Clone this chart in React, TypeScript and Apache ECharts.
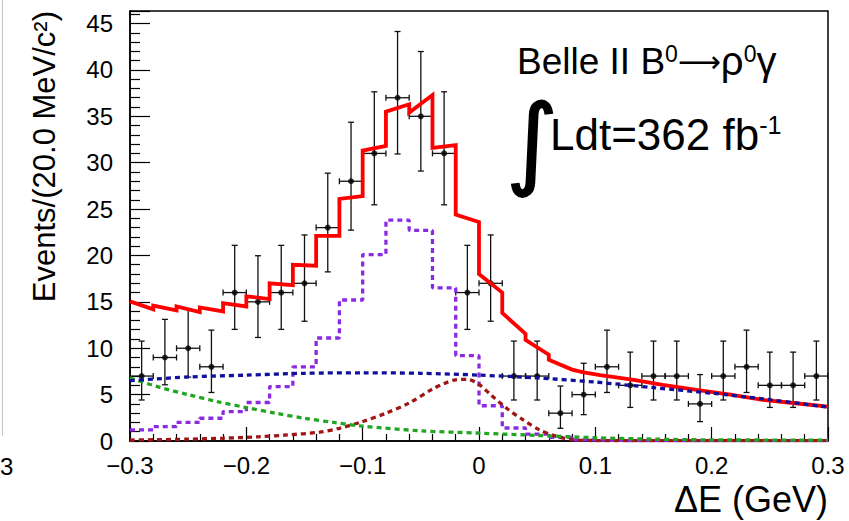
import React, { useEffect, useRef } from "react";
import * as echarts from "echarts";

// ---- data ----
const binCenters = [-0.29, -0.27, -0.25, -0.23, -0.21, -0.19, -0.17, -0.15, -0.13, -0.11, -0.09, -0.07, -0.05, -0.03, -0.01, 0.01, 0.03, 0.05, 0.07, 0.09, 0.11, 0.13, 0.15, 0.17, 0.19, 0.21, 0.23, 0.25, 0.27, 0.29];
const binHalfWidth = 0.01;
const counts = [7, 9, 10, 8, 16, 15, 16, 17, 23, 28, 31, 37, 35, 31, 16, 17, 7, 7, 3, 5, 8, 6, 7, 7, 4, 7, 8, 6, 6, 7];
const errLow = [4.42, 6.06, 6.89, 5.23, 12.03, 11.16, 12.03, 12.91, 18.23, 22.73, 25.46, 30.94, 29.1, 25.46, 12.03, 12.91, 4.42, 4.42, 1.37, 2.84, 5.23, 3.62, 4.42, 4.42, 2.09, 4.42, 5.23, 3.62, 3.62, 4.42];
const errHigh = [10.77, 13.11, 14.27, 11.95, 21.09, 19.97, 21.09, 22.21, 28.87, 34.36, 37.64, 44.14, 41.98, 37.64, 21.09, 22.21, 10.77, 10.77, 5.92, 8.38, 11.95, 9.58, 10.77, 10.77, 7.16, 10.77, 11.95, 9.58, 9.58, 10.77];

// signal (binned pdf, purple)
const signalHist = [1.2, 1.55, 2.0, 2.45, 3.17, 4.15, 5.87, 8.0, 11.1, 15.2, 20.1, 23.8, 22.7, 16.5, 9.2, 3.8, 1.4, 0.75, 0.4, 0.12, 0.06, 0.05, 0.05, 0.05, 0.05, 0.05, 0.05, 0.05, 0.05, 0.05];

// total fit (red)
const totalX = [-0.3, -0.28, -0.28, -0.26, -0.26, -0.24, -0.24, -0.22, -0.22, -0.2, -0.2, -0.18, -0.18, -0.16, -0.16, -0.14, -0.14, -0.12, -0.12, -0.1, -0.1, -0.08, -0.08, -0.06, -0.06, -0.04, -0.04, -0.02, -0.02, 0, 0, 0.02, 0.02, 0.04, 0.04, 0.06, 0.06, 0.08, 0.09, 0.104, 0.121, 0.133, 0.158, 0.187, 0.216, 0.244, 0.272, 0.3];
const totalY = [15.05, 14.2, 14.6, 14.07, 14.5, 13.9, 14.4, 13.97, 14.86, 14.5, 15.6, 15.3, 17.0, 16.8, 19.0, 18.9, 22.1, 22.1, 26.1, 26.4, 31.3, 31.8, 35.5, 36.3, 35.4, 37.3, 31.6, 31.9, 24.4, 23.6, 18.0, 16.0, 13.8, 11.55, 10.9, 9.3, 8.75, 7.7, 7.4, 7.1, 6.8, 6.6, 6.05, 5.5, 5.0, 4.43, 4.07, 3.7];

// continuum (blue)
const contX = [-0.3, -0.25, -0.2, -0.15, -0.1, -0.05, 0, 0.05, 0.1, 0.15, 0.2, 0.25, 0.3];
const contY = [6.5, 6.9, 7.1, 7.3, 7.35, 7.3, 7.1, 6.8, 6.35, 5.75, 5.15, 4.45, 3.65];

// green component
const greenX = [-0.3, -0.275, -0.25, -0.225, -0.2, -0.175, -0.15, -0.125, -0.1, -0.05, 0, 0.05, 0.1, 0.15, 0.2, 0.3];
const greenY = [6.8, 5.8, 5.0, 4.25, 3.6, 3.0, 2.45, 2.0, 1.6, 1.1, 0.85, 0.6, 0.35, 0.2, 0.12, 0.1];

// peaking background (dark red)
const peakX = [-0.3, -0.25, -0.22, -0.19, -0.165, -0.137, -0.12, -0.1, -0.08, -0.06, -0.04, -0.03, -0.02, -0.01, 0, 0.01, 0.024, 0.038, 0.052, 0.067, 0.08, 0.1, 0.3];
const peakY = [0.1, 0.2, 0.3, 0.45, 0.65, 0.95, 1.37, 2.1, 3.0, 4.1, 5.6, 6.2, 6.6, 6.65, 6.1, 5.0, 3.5, 2.27, 1.2, 0.47, 0.15, 0.05, 0.05];

const xTicks = [-0.3, -0.2, -0.1, 0, 0.1, 0.2, 0.3];
const yMax = 46.35;

const FONT = "'Liberation Sans', Arial, Helvetica, sans-serif";

function zip(xs: number[], ys: number[]) {
  return xs.map((x, i) => [x, ys[i]]);
}

export default function App() {
  const ref = useRef<HTMLDivElement>(null);
  useEffect(() => {
    if (!ref.current) return;
    const chart = echarts.init(ref.current, null, { renderer: "svg" });

    const histData = binCenters.map((c, i) => [c - binHalfWidth, signalHist[i]]);
    histData.push([binCenters[binCenters.length - 1] + binHalfWidth, signalHist[signalHist.length - 1]]);

    const dotted = (color: string) => ({
      color,
      width: 3.3,
      type: [5, 4] as number[],
      cap: "butt" as const,
    });

    chart.setOption({
      animation: false,
      backgroundColor: "#fff",
      grid: {
        left: 130,
        right: 21,
        top: 11,
        bottom: 80,
        show: true,
        borderColor: "#000",
        borderWidth: 1.5,
        backgroundColor: "transparent",
      },
      xAxis: {
        type: "value",
        min: -0.3,
        max: 0.3,
        interval: 0.1,
        axisLine: { show: true, onZero: false, lineStyle: { color: "#000", width: 1.5 } },
        axisTick: { show: true, inside: true, length: 14, lineStyle: { color: "#000", width: 1.2 } },
        minorTick: { show: true, splitNumber: 5, length: 7, lineStyle: { color: "#000", width: 1.2 } },
        splitLine: { show: false },
        axisLabel: {
          margin: 12,
          color: "#000",
          fontSize: 24,
          fontFamily: FONT,
          formatter: (v: number) => {
            const r = Math.round(v * 10) / 10;
            if (!xTicks.some((t) => Math.abs(t - r) < 1e-9)) return "";
            if (r === 0) return "0";
            return (r < 0 ? "\u2212" : "") + Math.abs(r).toFixed(1);
          },
        },
      },
      yAxis: {
        type: "value",
        min: 0,
        max: yMax,
        interval: 5,
        axisLine: { show: true, onZero: false, lineStyle: { color: "#000", width: 1.5 } },
        axisTick: { show: true, inside: true, length: 20, lineStyle: { color: "#000", width: 1.2 } },
        minorTick: { show: true, splitNumber: 5, length: 10, lineStyle: { color: "#000", width: 1.2 } },
        splitLine: { show: false },
        axisLabel: {
          margin: 17,
          color: "#000",
          fontSize: 24,
          fontFamily: FONT,
          showMaxLabel: false,
          formatter: (v: number) => (Math.abs(v / 5 - Math.round(v / 5)) < 1e-6 ? String(Math.round(v)) : ""),
        },
      },
      series: [
        {
          type: "custom",
          name: "errors",
          z: 2,
          data: binCenters.map((c, i) => [c, counts[i], errLow[i], errHigh[i]]),
          encode: { x: 0, y: 1 },
          renderItem: (params: any, api: any) => {
            const x = api.value(0);
            const y = api.value(1);
            const lo = api.value(2);
            const hi = api.value(3);
            const c = api.coord([x, y]);
            const pl = api.coord([x - binHalfWidth, y]);
            const pr = api.coord([x + binHalfWidth, y]);
            const pLo = api.coord([x, lo]);
            const pHi = api.coord([x, hi]);
            const style = { stroke: "#111", lineWidth: 1.3, fill: "none" };
            const cap = 3;
            return {
              type: "group",
              children: [
                { type: "line", shape: { x1: pl[0], y1: c[1], x2: pr[0], y2: c[1] }, style },
                { type: "line", shape: { x1: c[0], y1: pHi[1], x2: c[0], y2: pLo[1] }, style },
                { type: "line", shape: { x1: c[0] - cap, y1: pHi[1], x2: c[0] + cap, y2: pHi[1] }, style },
                { type: "line", shape: { x1: c[0] - cap, y1: pLo[1], x2: c[0] + cap, y2: pLo[1] }, style },
                { type: "line", shape: { x1: pl[0], y1: c[1] - cap, x2: pl[0], y2: c[1] + cap }, style },
                { type: "line", shape: { x1: pr[0], y1: c[1] - cap, x2: pr[0], y2: c[1] + cap }, style },
              ],
            };
          },
        },
        {
          type: "scatter",
          name: "data",
          z: 3,
          symbol: "circle",
          symbolSize: 6,
          itemStyle: { color: "#000" },
          data: zip(binCenters, counts),
        },
        {
          type: "line",
          name: "signal",
          z: 4,
          step: "end",
          showSymbol: false,
          lineStyle: dotted("#8a2be2"),
          data: histData,
        },
        {
          type: "line",
          name: "total",
          z: 5,
          showSymbol: false,
          lineStyle: { color: "#ff0000", width: 3.8, join: "miter" },
          data: zip(totalX, totalY),
        },
        {
          type: "line",
          name: "peaking",
          z: 6,
          smooth: 0.3,
          showSymbol: false,
          lineStyle: dotted("#a01515"),
          data: zip(peakX, peakY),
        },
        {
          type: "line",
          name: "green",
          z: 6,
          smooth: 0.3,
          showSymbol: false,
          lineStyle: dotted("#22a522"),
          data: zip(greenX, greenY),
        },
        {
          type: "line",
          name: "continuum",
          z: 7,
          smooth: 0.3,
          showSymbol: false,
          lineStyle: dotted("#10109c"),
          data: zip(contX, contY),
        },
      ],
      graphic: [
        {
          type: "line",
          shape: { x1: 2.5, y1: 0, x2: 2.5, y2: 436 },
          style: { stroke: "#c8c8c8", lineWidth: 1.2 },
        },
        {
          type: "text",
          x: 0,
          y: 466,
          style: { text: "3", fontSize: 24, fontFamily: FONT, fill: "#000", align: "left", verticalAlign: "middle" },
        },
        {
          type: "text",
          x: 44,
          y: 11,
          rotation: Math.PI / 2,
          style: {
            text: "Events/(20.0 MeV/c\u00B2)",
            fontSize: 31,
            fontFamily: FONT,
            fill: "#000",
            align: "right",
            verticalAlign: "middle",
          },
        },
        {
          type: "text",
          x: 828,
          y: 499,
          style: {
            text: "\u0394E (GeV)",
            fontSize: 36,
            fontFamily: FONT,
            fill: "#000",
            align: "right",
            verticalAlign: "middle",
          },
        },
        {
          type: "text",
          x: 517,
          y: 61,
          style: {
            text: "Belle II B{s|0}{a|\u27F6}{g|\u03C1}{s|0}{g|\u03B3}",
            fontSize: 37,
            fontFamily: FONT,
            fill: "#000",
            align: "left",
            verticalAlign: "middle",
            rich: {
              s: { fontSize: 23, fontFamily: FONT, verticalAlign: "top", fill: "#000" },
              a: { fontSize: 30, lineHeight: 37, fontFamily: "'DejaVu Sans', sans-serif", verticalAlign: "middle", fill: "#000" },
              g: { fontSize: 40, lineHeight: 37, fontFamily: FONT, verticalAlign: "middle", fill: "#000" },
            },
          },
        },
        {
          type: "text",
          x: 532,
          y: 141,
          style: {
            text: "\u222B",
            fontSize: 100,
            fontFamily: "'DejaVu Sans', sans-serif",
            fill: "#000",
            stroke: "#000",
            lineWidth: 1.5,
            align: "center",
            verticalAlign: "middle",
          },
        },
        {
          type: "text",
          x: 550,
          y: 134,
          style: {
            text: "Ldt=362 fb{s|-1}",
            fontSize: 44,
            fontFamily: FONT,
            fill: "#000",
            align: "left",
            verticalAlign: "middle",
            rich: {
              s: { fontSize: 25, fontFamily: FONT, verticalAlign: "top", fill: "#000" },
            },
          },
        },
      ],
    });
    return () => chart.dispose();
  }, []);
  return (
    <div
      ref={ref}
      style={{ position: "fixed", left: 0, top: 0, width: 849, height: 521, background: "#fff" }}
    />
  );
}
